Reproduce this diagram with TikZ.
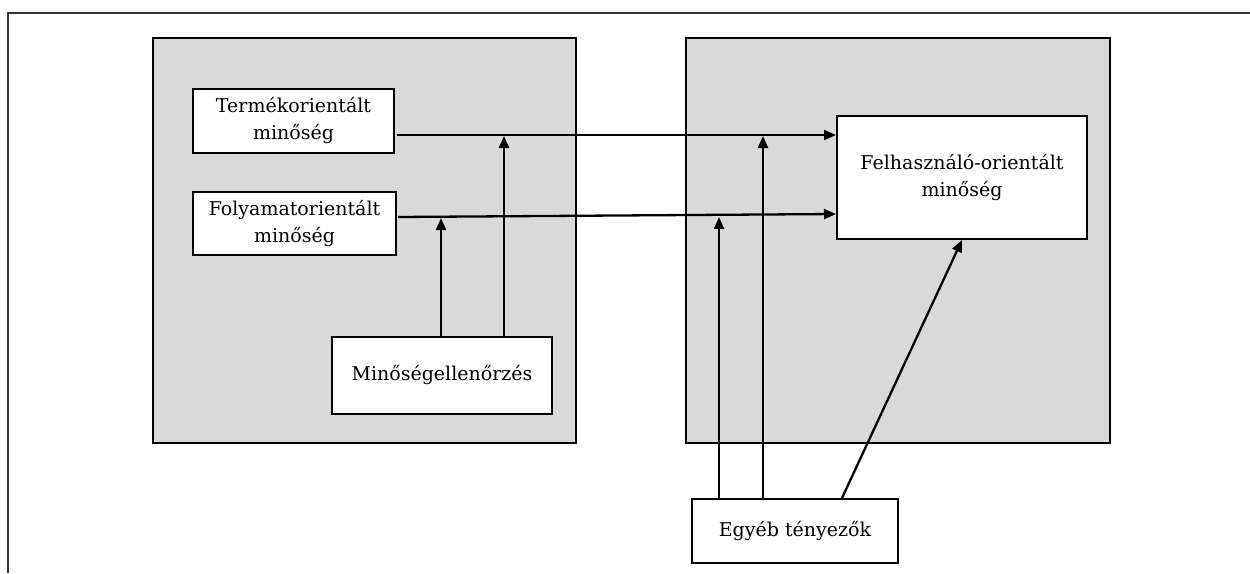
\documentclass[tikz,border=0pt]{standalone}
\usepackage{fontspec}
\setmainfont{DejaVu Serif}
\usetikzlibrary{arrows.meta,calc}
\definecolor{panelgray}{HTML}{D9D9D9}
\definecolor{framegray}{HTML}{333333}
\tikzset{
  panel/.style={draw=black,line width=2pt,fill=panelgray},
  box/.style={draw=black,line width=2pt,fill=white,align=center,inner sep=0pt,
    font=\fontsize{19}{27}\selectfont},
  arr/.style={line width=2.3pt,-{Triangle[length=12pt,width=10pt]}},
}
\begin{document}
\begin{tikzpicture}[x=1pt,y=-1pt]
\useasboundingbox (0,0) rectangle (1250,573);
% outer frame (only top and left visible)
\coordinate (fr0) at (8,573);
\coordinate (fr1) at (8,13);
\coordinate (fr2) at (1250,13);
\draw[draw=framegray,line width=2.2pt] (fr0) -- (fr1) -- (fr2);
% panels
\node[panel,minimum width=423pt,minimum height=405pt,inner sep=0pt] (lp) at (364.5,240.5) {};
\node[panel,minimum width=424pt,minimum height=405pt,inner sep=0pt] (rp) at (898,240.5) {};
% boxes
\node[box,minimum width=201pt,minimum height=64pt] (termek) at (293.5,121) {Termékorientált\\minőség};
\node[box,minimum width=203pt,minimum height=63pt] (folyamat) at (294.5,223.5) {Folyamatorientált\\minőség};
\node[box,minimum width=220pt,minimum height=77pt] (ell) at (442,375.5) {Minőségellenőrzés};
\node[box,minimum width=250pt,minimum height=123pt] (felh) at (962,177.5) {Felhasználó-orientált\\minőség};
\node[box,minimum width=206pt,minimum height=64pt] (egyeb) at (795,531) {Egyéb tényezők};
% horizontal arrows
\coordinate (t1) at ([xshift=2pt,yshift=-14pt]termek.east);
\draw[arr] (t1) -- (t1 -| felh.west);
\coordinate (f1) at ([xshift=1pt,yshift=6.5pt]folyamat.east);
\coordinate (f2) at ([yshift=-36.5pt]felh.west);
\draw[arr] (f1) -- (f2);
% vertical arrows from Minőségellenőrzés
\coordinate (m1) at ([xshift=-1pt]ell.north);
\coordinate (m2) at ([xshift=62pt]ell.north);
\draw[arr] (m1) -- ($(m1 |- f1)+(0,1)$);
\draw[arr] (m2) -- ($(m2 |- t1)+(0,1)$);
% arrows from Egyéb tényezők
\coordinate (e1) at ([xshift=-76pt]egyeb.north);
\coordinate (e2) at ([xshift=-32pt]egyeb.north);
\coordinate (e3) at ([xshift=47pt]egyeb.north);
\draw[arr] (e1) -- ($(e1 |- f2)+(0,3)$);
\draw[arr] (e2) -- ($(e2 |- t1)+(0,1)$);
\draw[arr] (e3) -- (felh.south);
\end{tikzpicture}
\end{document}
